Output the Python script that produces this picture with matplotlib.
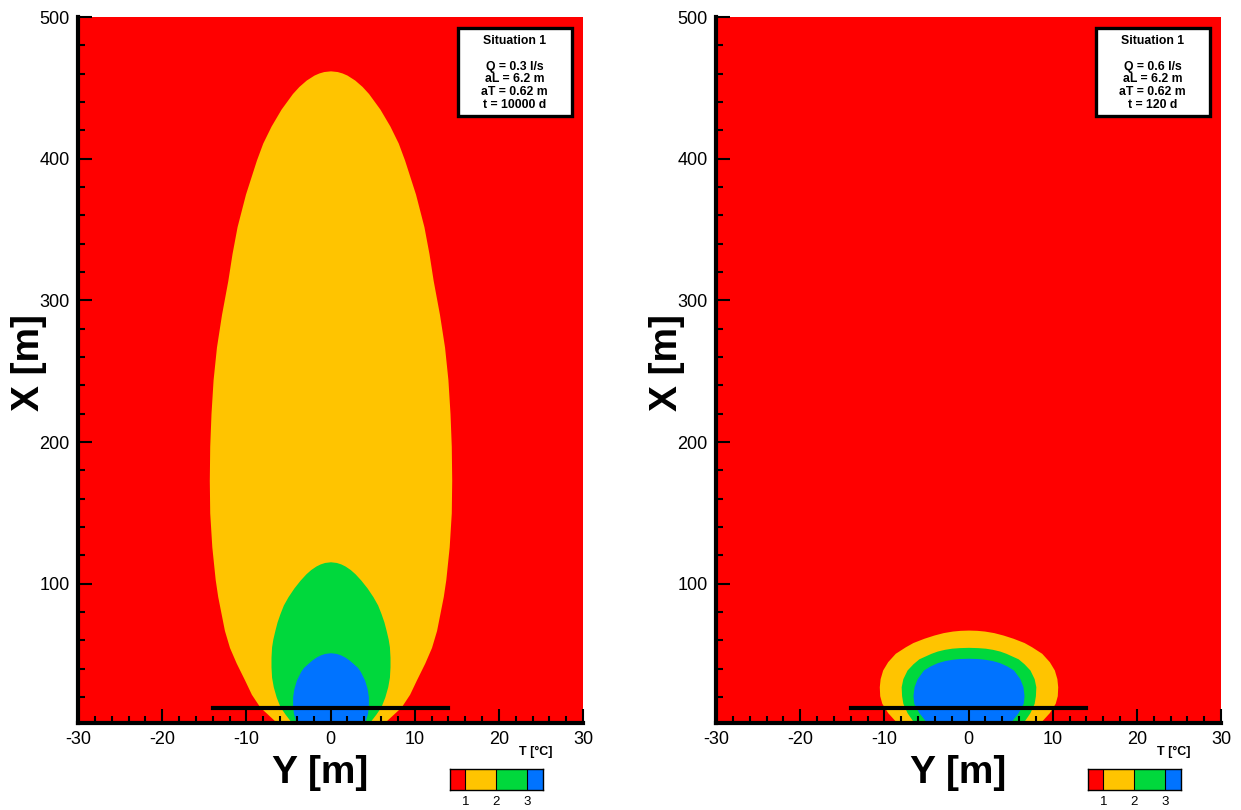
import matplotlib
matplotlib.use("Agg")
import matplotlib.pyplot as plt
from matplotlib.patches import Rectangle
from matplotlib.ticker import MultipleLocator
import numpy as np

plt.rcParams['font.family'] = ['Liberation Sans', 'DejaVu Sans']
plt.rcParams['axes.unicode_minus'] = False

# zone colours (T classes)
zone_colors = ['#ff0000', '#ffc400', '#00d83c', '#0073ff']
zone_ticks = [1, 2, 3]

# plume outlines: distance X [m] and half width |Y| [m]
# situation with t = 10000 d
yel1_x = [0, 2, 13, 22, 32, 44, 55, 67, 79, 91, 103, 126, 150, 173, 197, 220, 244, 267, 290, 314, 333,
          352, 375, 399, 411, 423, 435, 446, 451, 455.5, 459, 460.5, 461.5, 462]
yel1_w = [6.2, 6.4, 8.4, 9.4, 10.2, 11.2, 12.0, 12.6, 13.0, 13.4, 13.7, 14.1, 14.35, 14.4, 14.35, 14.2, 13.95,
          13.55, 12.95, 12.2, 11.7, 11.1, 10.1, 8.8, 8.05, 7.06, 5.87, 4.52, 3.75, 2.88, 1.96, 1.38, 0.8, 0]
grn1_x = [0, 2.6, 8, 13.2, 20, 27.3, 34, 41.4, 48, 55.5, 61, 67.3, 73, 79, 85, 90.8, 97, 102.6,
          107, 110, 112.5, 114, 115, 115.5]
grn1_w = [4.5, 4.7, 5.4, 6.0, 6.45, 6.8, 7.0, 7.07, 7.07, 7.0, 6.85, 6.6, 6.35, 6.0, 5.6, 5.05, 4.35, 3.6,
          2.92, 2.35, 1.73, 1.22, 0.7, 0]
blu1_x = [0, 2.6, 8.5, 14, 20.2, 26, 32, 38, 41, 43.8, 46.3, 48.3, 49.8, 50.8, 51.3]
blu1_w = [4.0, 4.1, 4.4, 4.5, 4.5, 4.35, 4.05, 3.55, 3.2, 2.67, 2.18, 1.69, 1.19, 0.69, 0]

# situation with t = 120 d
yel2_x = [0, 3.8, 9, 15.6, 21, 27.3, 33, 39.1, 45, 50.9, 55.5, 58.5, 61.5, 63.8, 65.5, 66.6, 67.1, 67.3]
yel2_w = [8.2, 8.8, 9.6, 10.3, 10.55, 10.6, 10.5, 10.2, 9.6, 8.7, 7.5, 6.6, 5.3, 4.1, 3.0, 1.9, 1.0, 0]
grn2_x = [0, 3.8, 9, 15.6, 21, 27.3, 33, 39.1, 43.5, 47, 50.9, 52.5, 53.7, 54.5, 54.9, 55.1]
grn2_w = [6.3, 6.7, 7.3, 7.8, 7.95, 8.0, 7.8, 7.3, 6.6, 5.9, 4.45, 3.7, 2.85, 2.0, 1.1, 0]
blu2_x = [0, 3.8, 9, 15.6, 21, 27.3, 33, 39.1, 42, 44.3, 45.8, 46.7, 47.2, 47.4]
blu2_w = [4.8, 5.2, 5.9, 6.5, 6.6, 6.47, 6.1, 5.35, 4.55, 3.7, 2.8, 1.9, 1.1, 0]

# well line
line_y = [-14, 14]
line_x = 12.5

panels = [
    dict(zones=[(yel1_x, yel1_w), (grn1_x, grn1_w), (blu1_x, blu1_w)],
         info="Situation 1\n\nQ = 0.3 l/s\naL = 6.2 m\naT = 0.62 m\nt = 10000 d"),
    dict(zones=[(yel2_x, yel2_w), (grn2_x, grn2_w), (blu2_x, blu2_w)],
         info="Situation 1\n\nQ = 0.6 l/s\naL = 6.2 m\naT = 0.62 m\nt = 120 d"),
]

fig = plt.figure(figsize=(12.41, 8.10), dpi=100)
lefts = [78 / 1241, 716 / 1241]

for left, p in zip(lefts, panels):
    ax = fig.add_axes([left, 87 / 810, 505 / 1241, 706 / 810])
    ax.set_facecolor(zone_colors[0])
    for (zx, zw), c in zip(p['zones'], zone_colors[1:]):
        zx = np.array(zx)
        zw = np.array(zw)
        ax.fill_betweenx(zx, -zw, zw, color=c, lw=0)
    ax.plot(line_y, [line_x, line_x], color='black', lw=3)

    ax.set_xlim(-30, 30)
    ax.set_ylim(1.7, 500)
    ax.set_xticks(range(-30, 31, 10))
    ax.set_yticks(range(100, 501, 100))
    ax.xaxis.set_minor_locator(MultipleLocator(2))
    ax.yaxis.set_minor_locator(MultipleLocator(20))
    ax.tick_params(which='both', direction='in', top=False, right=False,
                   labelsize=13, width=1.5, pad=6)
    ax.tick_params(which='major', length=10)
    ax.tick_params(which='minor', length=5)
    for s in ['top', 'right']:
        ax.spines[s].set_visible(False)
    for s in ['left', 'bottom']:
        ax.spines[s].set_linewidth(3)
    ax.set_xlabel('Y [m]', fontsize=28, fontweight='bold')
    ax.set_ylabel('X [m]', fontsize=28, fontweight='bold')
    ax.xaxis.set_label_coords(0.479, -0.045)
    ax.yaxis.set_label_coords(-0.062, 0.511)

    # info box
    ax.add_patch(Rectangle((0.753, 0.860), 0.2246, 0.1238, transform=ax.transAxes,
                           facecolor='white', edgecolor='black', lw=2.4, zorder=5))
    ax.text(0.8648, 0.974, p['info'], transform=ax.transAxes, ha='center', va='top',
            fontsize=8.8, fontweight='bold', linespacing=1.07, zorder=6)

    # colour legend
    cax = ax.inset_axes([0.7366, -0.0949, 0.184, 0.0297])
    edges = [0.5, 1, 2, 3, 3.5]
    cax.pcolormesh(edges, [0, 1], np.array([[0, 1, 2, 3]]),
                   cmap=matplotlib.colors.ListedColormap(zone_colors), vmin=-0.5, vmax=3.5)
    cax.set_xlim(0.5, 3.5)
    cax.set_xticks(zone_ticks)
    cax.set_yticks([])
    cax.tick_params(length=0, labelsize=9.5, pad=4)
    for s in cax.spines.values():
        s.set_linewidth(1)
    for b in [1, 2, 3]:
        cax.axvline(b, color='black', lw=0.8)
    ax.text(0.907, -0.041, 'T [°C]', transform=ax.transAxes, ha='center', va='center',
            fontsize=9, fontweight='bold')

fig.savefig('out.png', dpi=100)
